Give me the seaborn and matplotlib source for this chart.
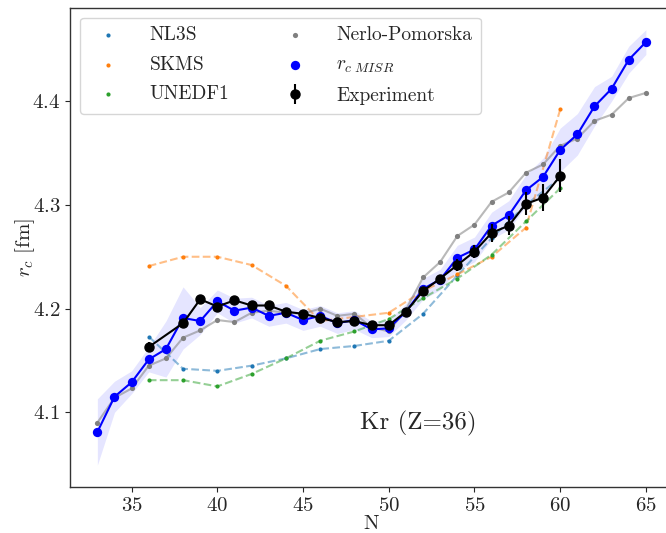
import numpy as np
import pandas as pd
import seaborn as sns
import matplotlib
matplotlib.use("Agg")
import matplotlib.pyplot as plt

# Neutron numbers
n_misr = list(range(33, 66))
n_model = [36, 38, 40, 42, 44, 46, 48, 50, 52, 54, 56, 58, 60]
n_exp = [36] + list(range(38, 61))
n_np = list(range(33, 66))

# Charge radii [fm]
r_misr = [4.081, 4.115, 4.129, 4.151, 4.161, 4.191, 4.188, 4.207, 4.198, 4.201,
          4.193, 4.196, 4.189, 4.193, 4.186, 4.189, 4.180, 4.181, 4.197, 4.219,
          4.228, 4.249, 4.257, 4.280, 4.290, 4.314, 4.327, 4.353, 4.368, 4.395,
          4.412, 4.440, 4.457]
misr_band = [0.032, 0.015, 0.011, 0.012, 0.027, 0.030, 0.013, 0.011, 0.012, 0.010,
             0.010, 0.010, 0.010, 0.010, 0.010, 0.009, 0.008, 0.008, 0.008, 0.010,
             0.010, 0.012, 0.012, 0.013, 0.014, 0.015, 0.018, 0.021, 0.020, 0.019,
             0.012, 0.013, 0.012]
r_np = [4.090, 4.114, 4.123, 4.145, 4.152, 4.172, 4.179, 4.189, 4.187, 4.196,
        4.198, 4.196, 4.195, 4.200, 4.193, 4.195, 4.182, 4.178, 4.199, 4.230,
        4.245, 4.270, 4.281, 4.303, 4.312, 4.331, 4.339, 4.357, 4.364, 4.381,
        4.387, 4.403, 4.408]
r_nl3s = [4.173, 4.142, 4.140, 4.145, 4.152, 4.161, 4.164, 4.169, 4.195, 4.232,
          4.268, 4.300, 4.326]
r_skms = [4.241, 4.250, 4.250, 4.242, 4.222, 4.188, 4.192, 4.196, 4.217, 4.233,
          4.250, 4.278, 4.392]
r_unedf1 = [4.131, 4.131, 4.125, 4.137, 4.152, 4.169, 4.178, 4.190, 4.210, 4.229,
            4.252, 4.284, 4.316]
r_exp = [4.163, 4.186, 4.209, 4.202, 4.208, 4.203, 4.203, 4.197, 4.195, 4.191,
         4.187, 4.188, 4.184, 4.184, 4.197, 4.217, 4.229, 4.242, 4.255, 4.273,
         4.280, 4.301, 4.307, 4.328]
err_exp = [0.005, 0.002, 0.002, 0.002, 0.002, 0.002, 0.002, 0.002, 0.002, 0.002,
           0.002, 0.002, 0.002, 0.002, 0.002, 0.002, 0.003, 0.006, 0.006, 0.009,
           0.009, 0.011, 0.013, 0.016]

sns.set_style("ticks")
plt.rcParams.update({
    "font.family": "serif",
    "font.serif": ["cmr10"],
    "mathtext.fontset": "cm",
    "axes.formatter.use_mathtext": True,
    "axes.unicode_minus": False,
    "font.size": 15,
})

fig = plt.figure(figsize=(6.66, 5.33), dpi=100)
ax = fig.add_axes([0.105, 0.0863, 0.906, 0.899])

models = pd.DataFrame({"N": n_model, "NL3S": r_nl3s, "SKMS": r_skms, "UNEDF1": r_unedf1})
pal = sns.color_palette("tab10")

# MISR uncertainty band
lo = np.array(r_misr) - np.array(misr_band)
hi = np.array(r_misr) + np.array(misr_band)
ax.fill_between(n_misr, lo, hi, color="blue", alpha=0.1, linewidth=0)

# Theory models: dashed lines with small markers
for name, c in zip(["NL3S", "SKMS", "UNEDF1"], pal[:3]):
    sns.lineplot(data=models, x="N", y=name, ax=ax, color=c, alpha=0.5,
                 linestyle="--", linewidth=1.5, legend=False)
    sns.scatterplot(data=models, x="N", y=name, ax=ax, color=c, s=9,
                    linewidth=0, label=name, zorder=3)

# Nerlo-Pomorska
sns.lineplot(x=n_np, y=r_np, ax=ax, color="gray", alpha=0.55, linewidth=1.5, legend=False)
sns.scatterplot(x=n_np, y=r_np, ax=ax, color="gray", s=14, linewidth=0,
                label="Nerlo-Pomorska", zorder=3)

# MISR radii
sns.lineplot(x=n_misr, y=r_misr, ax=ax, color="blue", linewidth=1.5, legend=False)
sns.scatterplot(x=n_misr, y=r_misr, ax=ax, color="blue", s=45, linewidth=0,
                label=r"$r_{c\ MISR}$", zorder=4)

# Experiment: connecting line plus points with error bars
sns.lineplot(x=n_exp, y=r_exp, ax=ax, color="black", linewidth=1.5, legend=False,
             zorder=5)
ax.errorbar(n_exp, r_exp, yerr=err_exp, fmt="o", color="black", markersize=6.5,
            elinewidth=1.5, capsize=0, label="Experiment", zorder=5)

ax.text(51.7, 4.089, "Kr (Z=36)", fontsize=18, ha="center", va="center")

ax.set_xlabel("N", labelpad=0)
ax.set_ylabel(r"$r_c$ [fm]")
ax.yaxis.set_label_coords(-0.055, 0.5)
ax.set_xticks([35, 40, 45, 50, 55, 60, 65])
ax.set_yticks([4.1, 4.2, 4.3, 4.4])
ax.tick_params(labelsize=15)
for sp in ax.spines.values():
    sp.set_color("#333333")
    sp.set_linewidth(1.0)

ax.legend(ncol=2, loc="upper left", fontsize=14, frameon=True,
          handletextpad=1.15, columnspacing=2.35, borderpad=0.45,
          labelspacing=0.6)

fig.savefig("out.png", dpi=100)
